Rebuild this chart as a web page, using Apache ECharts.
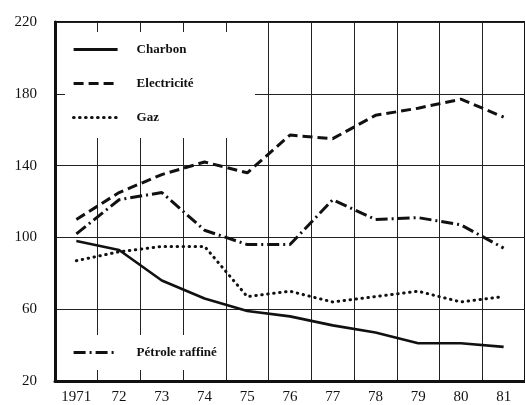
<!DOCTYPE html>
<html>
<head>
<meta charset="utf-8">
<script src="https://cdn.jsdelivr.net/npm/echarts@6/dist/echarts.min.js"></script>
<style>
  html, body { margin: 0; padding: 0; background: #fff; }
  #chart { width: 525px; height: 405px; }
</style>
</head>
<body>
<div id="chart"></div>
<script>
// années
var years = ['1971', '72', '73', '74', '75', '76', '77', '78', '79', '80', '81']
// indices
var charbon = [98, 93, 76, 66, 59, 56, 51, 47, 41, 41, 39]
var electricite = [110, 125, 135, 142, 136, 157, 155, 168, 172, 177, 167]
var gaz = [87, 92, 95, 95, 67, 70, 64, 67, 70, 64, 67]
var petrole = [102, 121, 125, 104, 96, 96, 121, 110, 111, 107, 94]

var ink = '#111'
var serif = 'Liberation Serif'

var chart = echarts.init(document.getElementById('chart'))

var legendText = {
  fontFamily: serif,
  fontWeight: 'bold',
  fontSize: 13,
  color: ink,
  padding: [0, 0, 0, 14]
}

chart.setOption({
  animation: false,
  backgroundColor: '#fff',
  grid: {
    left: 55,
    right: -4,
    top: 22,
    bottom: 23,
    show: true,
    borderColor: ink,
    borderWidth: 2
  },
  graphic: [
    // blancs derrière les légendes
    { type: 'rect', z: 1, shape: { x: 65, y: 32, width: 190, height: 106 }, style: { fill: '#fff' } },
    { type: 'rect', z: 1, shape: { x: 58, y: 335, width: 164, height: 35 }, style: { fill: '#fff' } }
  ],
  legend: [
    {
      data: ['Charbon', 'Electricité', 'Gaz'],
      orient: 'vertical',
      left: 72,
      top: 43,
      padding: 0,
      itemWidth: 44,
      itemHeight: 14,
      itemGap: 21,
      itemStyle: { opacity: 0 },
      lineStyle: { width: 3.2 },
      textStyle: legendText
    },
    {
      data: ['Pétrole raffiné'],
      orient: 'vertical',
      left: 72,
      top: 346,
      padding: 0,
      itemWidth: 44,
      itemHeight: 14,
      itemStyle: { opacity: 0 },
      lineStyle: { width: 3.2 },
      textStyle: legendText
    }
  ],
  xAxis: {
    type: 'category',
    data: years,
    boundaryGap: true,
    axisLine: { lineStyle: { color: ink, width: 3 } },
    axisTick: { show: false },
    axisLabel: {
      interval: 0,
      margin: 9,
      fontFamily: serif,
      fontSize: 15,
      color: ink
    },
    splitLine: {
      show: true,
      interval: 0,
      lineStyle: { color: '#222', width: 1 }
    }
  },
  yAxis: {
    type: 'value',
    min: 20,
    max: 220,
    interval: 40,
    axisLine: { show: true, lineStyle: { color: ink, width: 3 } },
    axisTick: { show: false },
    axisLabel: {
      margin: 18,
      fontFamily: serif,
      fontSize: 15,
      color: ink,
      padding: [0, 0, 8, 0]
    },
    splitLine: { lineStyle: { color: '#222', width: 1 } }
  },
  series: [
    {
      name: 'Charbon',
      type: 'line',
      symbol: 'none',
      data: charbon,
      color: ink,
      lineStyle: { color: ink, width: 2.6 }
    },
    {
      name: 'Electricité',
      type: 'line',
      symbol: 'none',
      data: electricite,
      color: ink,
      lineStyle: { color: ink, width: 3, type: [10, 5] }
    },
    {
      name: 'Gaz',
      type: 'line',
      symbol: 'none',
      data: gaz,
      color: ink,
      lineStyle: { color: ink, width: 3, type: [0.5, 5.5], cap: 'round' }
    },
    {
      name: 'Pétrole raffiné',
      type: 'line',
      symbol: 'none',
      data: petrole,
      color: ink,
      lineStyle: { color: ink, width: 3, type: [12, 4, 2, 4] }
    }
  ]
})
</script>
</body>
</html>
